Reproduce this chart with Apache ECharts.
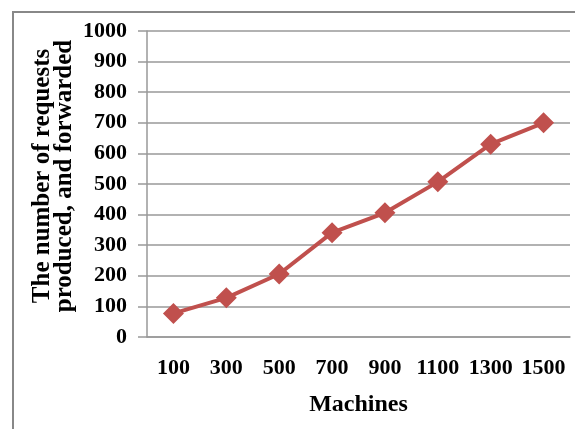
<!DOCTYPE html>
<html>
<head>
<meta charset="utf-8">
<script src="https://cdn.jsdelivr.net/npm/echarts@6/dist/echarts.min.js"></script>
<style>
  html, body { margin: 0; padding: 0; background: #fff; }
  #chart { width: 575px; height: 429px; }
</style>
</head>
<body>
<div id="chart"></div>
<script>
// Machines on the x axis
const machines = ['100', '300', '500', '700', '900', '1100', '1300', '1500'];
// Requests produced and forwarded for each machine count
const requests = [77, 128, 206, 341, 406, 507, 630, 700];
// Y axis range
const yMin = 0, yMax = 1000, yStep = 100;

const serif = '"Liberation Serif", "Times New Roman", serif';
const chart = echarts.init(document.getElementById('chart'));

chart.setOption({
  animation: false,
  backgroundColor: '#fff',
  grid: { left: 147, right: 5, top: 31, bottom: 92 },
  graphic: [
    {
      type: 'rect',
      shape: { x: 13, y: 12, width: 700, height: 600 },
      style: { fill: 'none', stroke: '#888', lineWidth: 2 },
      silent: true, z: -1
    },
    {
      type: 'text',
      x: 54, y: 176,
      rotation: Math.PI / 2,
      style: {
        text: 'The number of requests\nproduced, and forwarded',
        font: 'bold 25px ' + serif,
        fill: '#000',
        align: 'center',
        verticalAlign: 'middle',
        lineHeight: 22
      }
    }
  ],
  xAxis: {
    type: 'category',
    data: machines,
    boundaryGap: true,
    name: 'Machines',
    nameLocation: 'middle',
    nameGap: 56,
    nameTextStyle: { fontFamily: serif, fontWeight: 'bold', fontSize: 24, color: '#000' },
    axisLine: { lineStyle: { color: '#999', width: 1.5 } },
    axisTick: { show: false },
    axisLabel: {
      interval: 0, hideOverlap: false, margin: 20,
      fontFamily: serif, fontWeight: 'bold', fontSize: 22, color: '#000'
    },
    splitLine: { show: false }
  },
  yAxis: {
    type: 'value',
    min: yMin, max: yMax, interval: yStep,
    axisLine: { show: true, lineStyle: { color: '#999', width: 1.5 } },
    axisTick: { show: true, length: 9, lineStyle: { color: '#999', width: 1.5 } },
    axisLabel: {
      margin: 20, formatter: v => String(v),
      fontFamily: serif, fontWeight: 'bold', fontSize: 22, color: '#000'
    },
    splitLine: { show: true, lineStyle: { color: '#999', width: 1.5 } }
  },
  series: [{
    type: 'line',
    data: requests,
    symbol: 'diamond',
    symbolSize: 21,
    lineStyle: { color: '#C0504D', width: 4 },
    itemStyle: { color: '#C0504D' }
  }]
});
</script>
</body>
</html>
